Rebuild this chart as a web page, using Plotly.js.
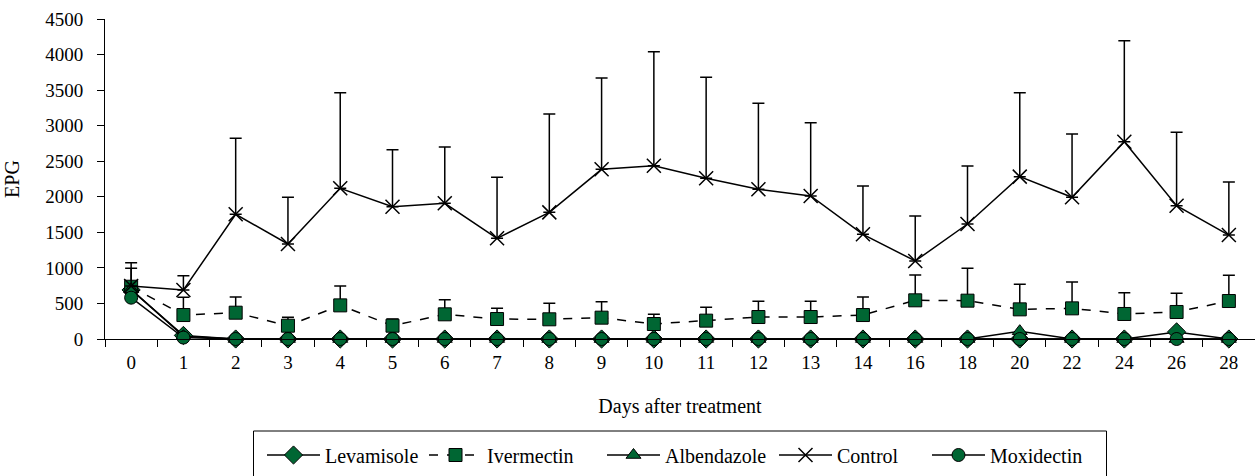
<!DOCTYPE html>
<html>
<head>
<meta charset="utf-8">
<script src="https://cdn.plot.ly/plotly-3.0.1.min.js"></script>
<style>html,body{margin:0;padding:0;background:#fff;}#chart{width:1255px;height:476px;}</style>
</head>
<body>
<div id="chart"></div>
<script>
const days = ['0','1','2','3','4','5','6','7','8','9','10','11','12','13','14','16','18','20','22','24','26','28'];

const levamisole  = [690, 50, 0, 0, 0, 0, 0, 0, 0, 0, 0, 0, 0, 0, 0, 0, 0, 0, 0, 0, 100, 0];
const ivermectin  = [735, 337, 370, 187, 473, 187, 347, 281, 277, 300, 211, 258, 309, 309, 337, 544, 539, 417, 431, 352, 380, 534];
const ivermectinErr = [259, 249, 221, 118, 272, 94, 206, 150, 225, 225, 136, 188, 221, 221, 253, 356, 455, 352, 371, 299, 262, 361];
const albendazole = [700, 40, 0, 0, 0, 0, 0, 0, 0, 0, 0, 0, 0, 0, 0, 0, 0, 110, 0, 0, 0, 0];
const control     = [745, 690, 1753, 1336, 2119, 1861, 1908, 1416, 1781, 2386, 2437, 2260, 2105, 2011, 1472, 1097, 1617, 2283, 1993, 2775, 1875, 1462];
const controlErr  = [328, 200, 1069, 656, 1345, 801, 792, 858, 1383, 1284, 1603, 1420, 1209, 1031, 680, 633, 816, 1181, 890, 1420, 1031, 746];
const moxidectin  = [581, 20, 0, 0, 0, 0, 0, 0, 0, 0, 0, 0, 0, 0, 0, 0, 0, 0, 0, 0, 0, 0];

const green = '#006633';
const zeros = days.map(() => 0);
const font = 'Liberation Serif';

// plot area in pixels (for converting legend positions to paper coords)
const PL = 105, PW = 1150, PT = 19, PH = 320;
const px2x = p => (p - PL) / PW;
const px2y = p => (PT + PH - p) / PH;

function errUp(arr) {
  return {type: 'data', symmetric: false, array: arr, arrayminus: zeros,
          color: '#000', thickness: 1.5, width: 6};
}

const traces = [
  {name: 'Levamisole', legend: 'legend', x: days, y: levamisole, type: 'scatter', mode: 'lines+markers', cliponaxis: false,
   line: {color: '#000', width: 1.5},
   marker: {symbol: 'diamond', size: 14, color: green, line: {color: '#000', width: 1}}},
  {name: 'Ivermectin', legend: 'legend2', x: days, y: ivermectin, type: 'scatter', mode: 'lines+markers', cliponaxis: false,
   line: {color: '#000', width: 1.5, dash: 'dash'},
   marker: {symbol: 'square', size: 13, color: green, line: {color: '#000', width: 1}},
   error_y: errUp(ivermectinErr)},
  {name: 'Albendazole', legend: 'legend3', x: days, y: albendazole, type: 'scatter', mode: 'lines+markers', cliponaxis: false,
   line: {color: '#000', width: 1.5},
   marker: {symbol: 'triangle-up', size: 13, color: green, line: {color: '#000', width: 1}}},
  {name: 'Control', legend: 'legend4', x: days, y: control, type: 'scatter', mode: 'lines+markers', cliponaxis: false,
   line: {color: '#000', width: 1.5},
   marker: {symbol: 'x-thin', size: 14, color: '#000', line: {color: '#000', width: 1.5}},
   error_y: errUp(controlErr)},
  {name: 'Moxidectin', legend: 'legend5', x: days, y: moxidectin, type: 'scatter', mode: 'lines+markers', cliponaxis: false,
   line: {color: '#000', width: 1.5},
   marker: {symbol: 'circle', size: 13, color: green, line: {color: '#000', width: 1}}}
];

function leg(pxLeft) {
  return {orientation: 'h', x: px2x(pxLeft), xanchor: 'left', y: px2y(455), yanchor: 'middle',
          bgcolor: 'rgba(0,0,0,0)', borderwidth: 0, itemwidth: 53,
          font: {family: font, size: 20, color: '#000'}};
}

const layout = {
  width: 1255, height: 476,
  margin: {l: PL, r: 0, t: PT, b: 476 - PT - PH, autoexpand: false},
  paper_bgcolor: '#fff', plot_bgcolor: '#fff',
  font: {family: font, size: 19, color: '#000'},
  showlegend: true,
  legend: leg(262),
  legend2: leg(424),
  legend3: leg(602),
  legend4: leg(774),
  legend5: leg(927),
  shapes: [{type: 'rect', xref: 'paper', yref: 'paper', x0: px2x(253.5), x1: px2x(1106.5),
            y0: px2y(431), y1: px2y(490), line: {color: '#000', width: 1}, fillcolor: 'rgba(0,0,0,0)'}],
  xaxis: {type: 'category', range: [-0.5, 21.5], showline: true, linecolor: '#000', linewidth: 1,
          ticks: 'outside', tickson: 'boundaries', ticklen: 7, tickcolor: '#000', tickwidth: 1,
          showgrid: false, zeroline: false, ticklabelstandoff: 6,
          tickfont: {family: font, size: 19, color: '#000'},
          title: {text: 'Days after treatment', standoff: 27, font: {family: font, size: 20, color: '#000'}}},
  yaxis: {range: [0, 4500], dtick: 500, tick0: 0, showline: true, linecolor: '#000', linewidth: 1,
          ticks: 'outside', ticklen: 7, tickcolor: '#000', tickwidth: 1,
          showgrid: false, zeroline: false, ticklabelstandoff: 10,
          tickfont: {family: font, size: 19, color: '#000'},
          title: {text: 'EPG', standoff: 20, font: {family: font, size: 20, color: '#000'}}}
};

Plotly.newPlot('chart', traces, layout, {displayModeBar: false, staticPlot: true});
</script>
</body>
</html>
